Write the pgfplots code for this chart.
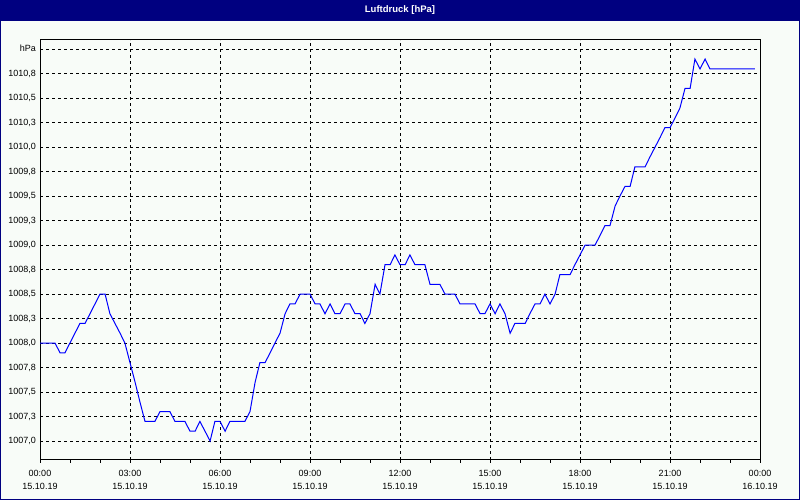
\documentclass[border=0pt]{standalone}
\usepackage{pgfplots}
\pgfplotsset{compat=1.18}
\usepackage{fontspec}
\setmainfont{Liberation Sans}
\definecolor{navy}{RGB}{0,0,128}
\definecolor{bg}{RGB}{248,252,248}
\definecolor{curve}{RGB}{0,0,255}

\begin{document}
\begin{tikzpicture}[x=1pt,y=1pt]
% window background and title bar
\fill[bg] (0,0) rectangle (800,500);
\fill[navy] (0,479.3) rectangle (800,500);
\draw[navy,line width=1pt] (0.5,0.5) rectangle (799.5,499.5);
\node[white,font=\fontsize{9.5}{11}\selectfont\bfseries] at (400,489.5) {Luftdruck [hPa]};

\begin{axis}[
    at={(40pt,40pt)}, anchor=south west,
    scale only axis, width=720pt, height=420pt,
    xmin=0, xmax=24, ymin=1006.806, ymax=1011.095,
    xtick={0,3,6,9,12,15,18,21,24},
    minor xtick={1,2,4,5,7,8,10,11,13,14,16,17,19,20,22,23},
    xticklabels={{00:00\\15.10.19},{03:00\\15.10.19},{06:00\\15.10.19},
                 {09:00\\15.10.19},{12:00\\15.10.19},{15:00\\15.10.19},
                 {18:00\\15.10.19},{21:00\\15.10.19},{00:00\\16.10.19}},
    ytick={1007,1007.25,1007.5,1007.75,1008,1008.25,1008.5,1008.75,1009,
           1009.25,1009.5,1009.75,1010,1010.25,1010.5,1010.75,1011},
    yticklabels={{1007,0},{1007,3},{1007,5},{1007,8},{1008,0},{1008,3},
                 {1008,5},{1008,8},{1009,0},{1009,3},{1009,5},{1009,8},
                 {1010,0},{1010,3},{1010,5},{1010,8},{\raisebox{3pt}{hPa}}},
    xtick pos=lower, ytick pos=left,
    tick align=outside,
    major tick length=3pt, minor tick length=3pt,
    ytick style={draw=none},
    xtick style={black, line width=1pt},
    minor tick style={black, line width=1pt},
    xmajorgrids, ymajorgrids,
    major grid style={black, line width=1pt, dash pattern=on 3pt off 3pt},
    axis line style={black, line width=1pt},
    xticklabel style={align=center, font=\fontsize{9}{13}\selectfont, inner sep=1pt, yshift=-6pt},
    yticklabel style={font=\fontsize{9}{11}\selectfont, inner sep=1pt},
  ]
  \addplot[curve, line width=1pt, mark=none] coordinates {
    (0,1008.0) (0.5,1008.0) (0.67,1007.9) (0.83,1007.9) (1.33,1008.2)
    (1.5,1008.2) (2.0,1008.5) (2.17,1008.5) (2.33,1008.3) (2.5,1008.2)
    (2.67,1008.1) (2.83,1008.0) (3.0,1007.8) (3.17,1007.6) (3.33,1007.4)
    (3.5,1007.2) (3.83,1007.2) (4.0,1007.3) (4.33,1007.3) (4.5,1007.2)
    (4.83,1007.2) (5.0,1007.1) (5.17,1007.1) (5.33,1007.2) (5.67,1007.0)
    (5.83,1007.2) (6.0,1007.2) (6.17,1007.1) (6.33,1007.2) (6.83,1007.2)
    (7.0,1007.3) (7.17,1007.6) (7.33,1007.8) (7.5,1007.8) (7.67,1007.9)
    (7.83,1008.0) (8.0,1008.1) (8.17,1008.3) (8.33,1008.4) (8.5,1008.4)
    (8.67,1008.5) (9.0,1008.5) (9.17,1008.4) (9.33,1008.4) (9.5,1008.3)
    (9.67,1008.4) (9.83,1008.3) (10.0,1008.3) (10.17,1008.4) (10.33,1008.4)
    (10.5,1008.3) (10.67,1008.3) (10.83,1008.2) (11.0,1008.3) (11.17,1008.6)
    (11.33,1008.5) (11.5,1008.8) (11.67,1008.8) (11.83,1008.9) (12.0,1008.8)
    (12.17,1008.8) (12.33,1008.9) (12.5,1008.8) (12.83,1008.8) (13.0,1008.6)
    (13.33,1008.6) (13.5,1008.5) (13.83,1008.5) (14.0,1008.4) (14.5,1008.4)
    (14.67,1008.3) (14.83,1008.3) (15.0,1008.4) (15.17,1008.3) (15.33,1008.4)
    (15.5,1008.3) (15.67,1008.1) (15.83,1008.2) (16.17,1008.2) (16.33,1008.3)
    (16.5,1008.4) (16.67,1008.4) (16.83,1008.5) (17.0,1008.4) (17.17,1008.5)
    (17.33,1008.7) (17.67,1008.7) (17.83,1008.8) (18.0,1008.9) (18.17,1009.0)
    (18.5,1009.0) (18.67,1009.1) (18.83,1009.2) (19.0,1009.2) (19.17,1009.4)
    (19.33,1009.5) (19.5,1009.6) (19.67,1009.6) (19.83,1009.8) (20.17,1009.8)
    (20.33,1009.9) (20.5,1010.0) (20.67,1010.1) (20.83,1010.2) (21.0,1010.2)
    (21.17,1010.3) (21.33,1010.4) (21.5,1010.6) (21.67,1010.6) (21.83,1010.9)
    (22.0,1010.8) (22.17,1010.9) (22.33,1010.8) (23.83,1010.8)
  };
\end{axis}
\end{tikzpicture}
\end{document}
